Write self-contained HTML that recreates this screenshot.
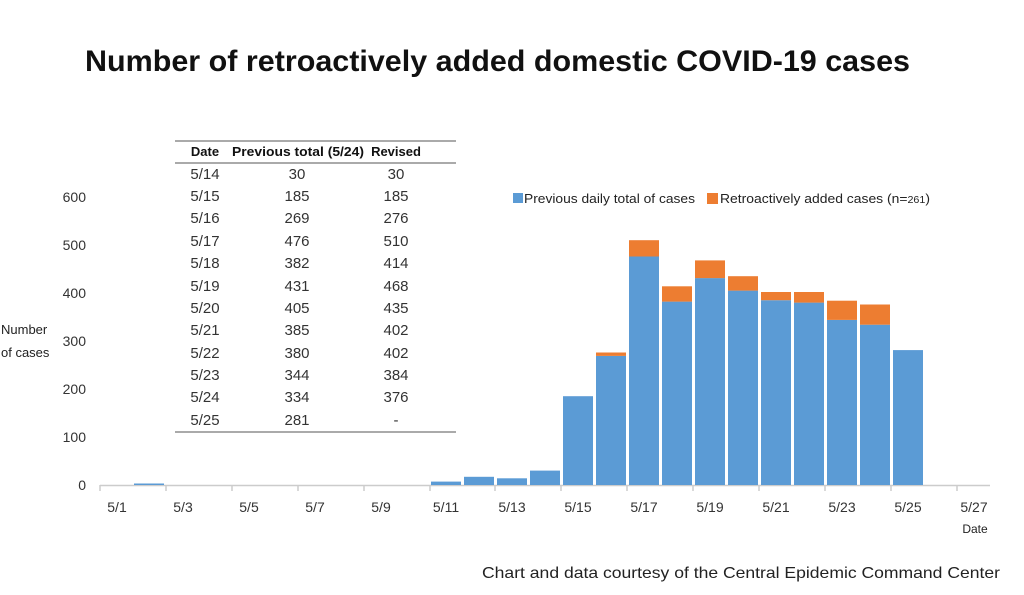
<!DOCTYPE html>
<html><head><meta charset="utf-8"><style>
body{margin:0;background:#fff;}
svg text{font-family:"Liberation Sans",sans-serif;}
</style></head><body>
<svg width="1024" height="590" xmlns="http://www.w3.org/2000/svg">
<rect width="1024" height="590" fill="#fff"/>
<text x="85" y="71" font-size="30" font-weight="bold" textLength="825" lengthAdjust="spacingAndGlyphs" fill="#111">Number of retroactively added domestic COVID-19 cases</text>
<!-- y axis labels -->
<g font-size="14" fill="#333" text-anchor="end">
<text x="86" y="490">0</text><text x="86" y="442">100</text><text x="86" y="394">200</text>
<text x="86" y="346">300</text><text x="86" y="298">400</text><text x="86" y="250">500</text><text x="86" y="202">600</text>
</g>
<text x="1" y="334" font-size="13" fill="#222">Number</text>
<text x="1" y="357" font-size="13" fill="#222">of cases</text>
<!-- axis -->
<line x1="100" y1="485.5" x2="990" y2="485.5" stroke="#ccc" stroke-width="1.5"/>
<g stroke="#ccc" stroke-width="1.5">
<line x1="100" y1="485" x2="100" y2="491"/><line x1="166" y1="485" x2="166" y2="491"/><line x1="232" y1="485" x2="232" y2="491"/>
<line x1="298" y1="485" x2="298" y2="491"/><line x1="364" y1="485" x2="364" y2="491"/><line x1="430" y1="485" x2="430" y2="491"/>
<line x1="495" y1="485" x2="495" y2="491"/><line x1="561" y1="485" x2="561" y2="491"/><line x1="627" y1="485" x2="627" y2="491"/>
<line x1="693" y1="485" x2="693" y2="491"/><line x1="759" y1="485" x2="759" y2="491"/><line x1="825" y1="485" x2="825" y2="491"/>
<line x1="891" y1="485" x2="891" y2="491"/><line x1="957" y1="485" x2="957" y2="491"/>
</g>
<g font-size="14" fill="#333" text-anchor="middle">
<text x="117" y="512">5/1</text><text x="183" y="512">5/3</text><text x="249" y="512">5/5</text><text x="315" y="512">5/7</text>
<text x="381" y="512">5/9</text><text x="446" y="512">5/11</text><text x="512" y="512">5/13</text><text x="578" y="512">5/15</text>
<text x="644" y="512">5/17</text><text x="710" y="512">5/19</text><text x="776" y="512">5/21</text><text x="842" y="512">5/23</text>
<text x="908" y="512">5/25</text><text x="974" y="512">5/27</text>
</g>
<text x="975" y="533" font-size="12" fill="#222" text-anchor="middle">Date</text>
<!-- bars -->
<g fill="#5b9bd5">
<rect x="134" y="483.5" width="30" height="1.5"/>
<rect x="431" y="481.6" width="30" height="3.4"/>
<rect x="464" y="476.8" width="30" height="8.2"/>
<rect x="497" y="478.3" width="30" height="6.7"/>
<rect x="530" y="470.6" width="30" height="14.4"/>
<rect x="563" y="396.2" width="30" height="88.8"/>
<rect x="596" y="355.9" width="30" height="129.1"/>
<rect x="629" y="256.5" width="30" height="228.5"/>
<rect x="662" y="301.6" width="30" height="183.4"/>
<rect x="695" y="278.1" width="30" height="206.9"/>
<rect x="728" y="290.6" width="30" height="194.4"/>
<rect x="761" y="300.2" width="30" height="184.8"/>
<rect x="794" y="302.6" width="30" height="182.4"/>
<rect x="827" y="319.9" width="30" height="165.1"/>
<rect x="860" y="324.7" width="30" height="160.3"/>
<rect x="893" y="350.1" width="30" height="134.9"/>
</g>
<g fill="#ed7d31">
<rect x="596" y="352.5" width="30" height="3.4"/>
<rect x="629" y="240.2" width="30" height="16.3"/>
<rect x="662" y="286.3" width="30" height="15.3"/>
<rect x="695" y="260.4" width="30" height="17.7"/>
<rect x="728" y="276.2" width="30" height="14.4"/>
<rect x="761" y="292.0" width="30" height="8.2"/>
<rect x="794" y="292.0" width="30" height="10.6"/>
<rect x="827" y="300.7" width="30" height="19.2"/>
<rect x="860" y="304.5" width="30" height="20.2"/>
</g>
<!-- legend -->
<rect x="513" y="193" width="10" height="10" fill="#5b9bd5"/>
<text x="524" y="203" font-size="13" fill="#222" textLength="171" lengthAdjust="spacingAndGlyphs">Previous daily total of cases</text>
<rect x="707" y="193" width="11" height="11" fill="#ed7d31"/>
<text x="720" y="203" font-size="13" fill="#222" textLength="210" lengthAdjust="spacingAndGlyphs">Retroactively added cases (n=<tspan font-size="10">261</tspan>)</text>
<!-- table -->
<line x1="175" y1="141" x2="456" y2="141" stroke="#777" stroke-width="1.2"/>
<line x1="175" y1="163" x2="456" y2="163" stroke="#777" stroke-width="1.2"/>
<line x1="175" y1="432" x2="456" y2="432" stroke="#777" stroke-width="1.2"/>
<g font-size="13" font-weight="bold" fill="#111" text-anchor="middle">
<text x="205" y="156">Date</text><text x="298" y="156" textLength="132" lengthAdjust="spacingAndGlyphs">Previous total (5/24)</text><text x="396" y="156">Revised</text>
</g>
<g font-size="15" fill="#333" text-anchor="middle">
<text x="205" y="179">5/14</text><text x="297" y="179">30</text><text x="396" y="179">30</text>
<text x="205" y="201">5/15</text><text x="297" y="201">185</text><text x="396" y="201">185</text>
<text x="205" y="223">5/16</text><text x="297" y="223">269</text><text x="396" y="223">276</text>
<text x="205" y="246">5/17</text><text x="297" y="246">476</text><text x="396" y="246">510</text>
<text x="205" y="268">5/18</text><text x="297" y="268">382</text><text x="396" y="268">414</text>
<text x="205" y="291">5/19</text><text x="297" y="291">431</text><text x="396" y="291">468</text>
<text x="205" y="313">5/20</text><text x="297" y="313">405</text><text x="396" y="313">435</text>
<text x="205" y="335">5/21</text><text x="297" y="335">385</text><text x="396" y="335">402</text>
<text x="205" y="358">5/22</text><text x="297" y="358">380</text><text x="396" y="358">402</text>
<text x="205" y="380">5/23</text><text x="297" y="380">344</text><text x="396" y="380">384</text>
<text x="205" y="402">5/24</text><text x="297" y="402">334</text><text x="396" y="402">376</text>
<text x="205" y="425">5/25</text><text x="297" y="425">281</text><text x="396" y="425">-</text>
</g>
<text x="482" y="578" font-size="16" fill="#222" textLength="518" lengthAdjust="spacingAndGlyphs">Chart and data courtesy of the Central Epidemic Command Center</text>
</svg>
</body></html>
